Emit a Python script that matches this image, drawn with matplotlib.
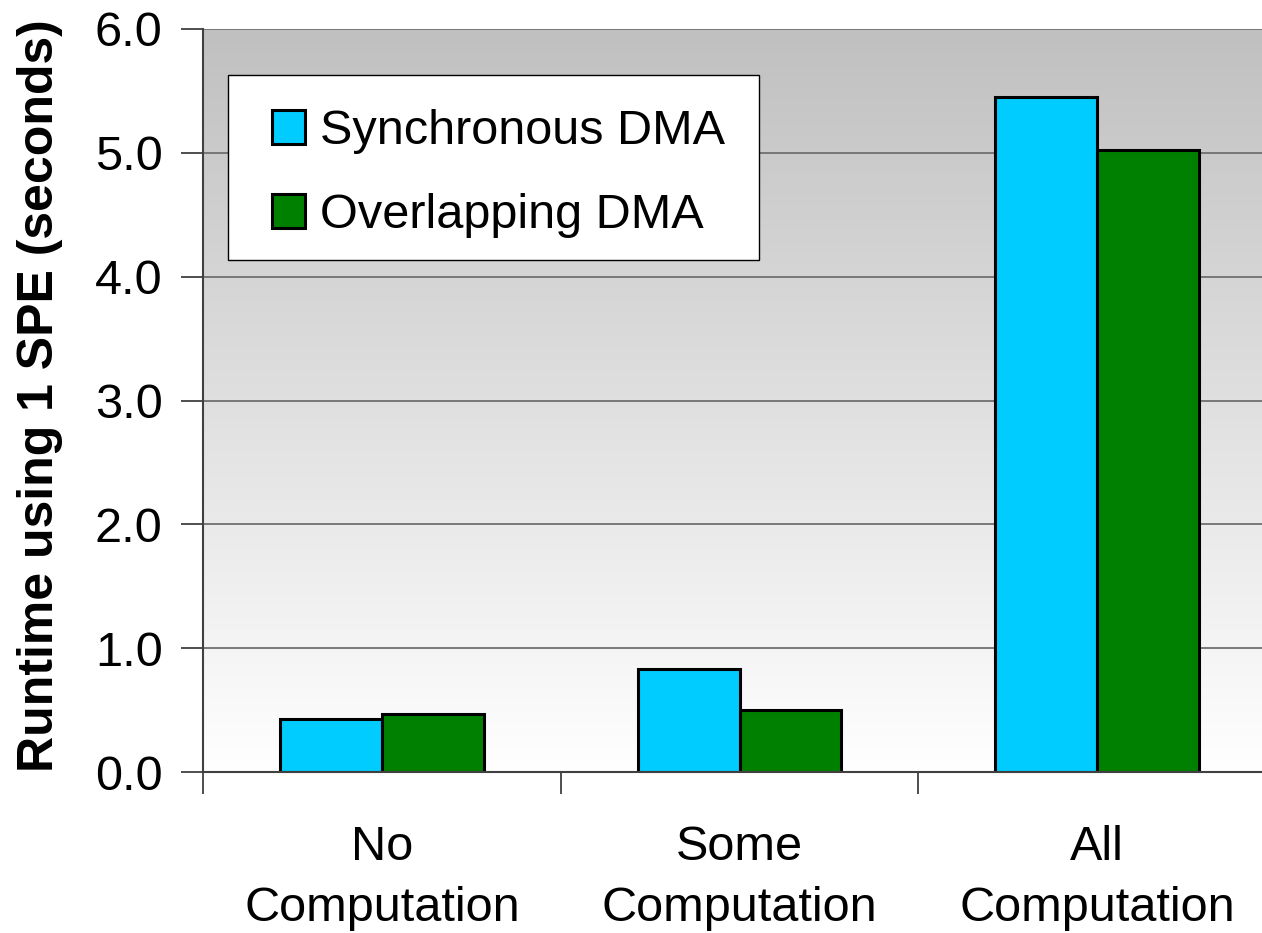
import matplotlib
matplotlib.use("Agg")
import matplotlib.pyplot as plt
from matplotlib.patches import Rectangle
import numpy as np

categories = ["No\nComputation", "Some\nComputation", "All\nComputation"]
series_names = ["Synchronous DMA", "Overlapping DMA"]
sync_vals = [0.43, 0.83, 5.45]
overlap_vals = [0.47, 0.50, 5.02]
colors = ["#00CCFF", "#008000"]
yticks = [0.0, 1.0, 2.0, 3.0, 4.0, 5.0, 6.0]

plt.rcParams['font.family'] = ['Liberation Sans', 'DejaVu Sans']

W, H = 1262, 933
fig = plt.figure(figsize=(W/100, H/100), dpi=100)
AX_L, AX_R, AX_T, AX_B = 203, 1276, 29, 772
ax = fig.add_axes([AX_L/W, 1-AX_B/H, (AX_R-AX_L)/W, (AX_B-AX_T)/H])

def axfrac(px, py):
    return ((px-AX_L)/(AX_R-AX_L), (AX_B-py)/(AX_B-AX_T))

x = np.arange(len(categories))
w = 0.285
ax.set_xlim(-0.5, 2.5)
ax.set_ylim(0, 6)

# gradient background
grad = np.linspace(0, 1, 256).reshape(-1, 1)
top = np.array([0xC0, 0xC0, 0xC0]) / 255
bot = np.array([1.0, 1.0, 1.0])
img = bot[None, None, :] * (1 - grad[:, :, None]) + top[None, None, :] * grad[:, :, None]
img = np.clip(img, 0, 1)
ax.imshow(img, extent=[-0.5, 2.5, 0, 6], aspect='auto', origin='lower', zorder=0)

for yv in yticks[1:]:
    ax.axhline(yv, color='#707070', lw=1.3, zorder=1)

ax.bar(x - w/2, sync_vals, w, color=colors[0], edgecolor='black', lw=2.2, zorder=3, label=series_names[0])
ax.bar(x + w/2, overlap_vals, w, color=colors[1], edgecolor='black', lw=2.2, zorder=3, label=series_names[1])

ax.set_yticks(yticks)
ax.set_yticklabels([f"{v:.1f}" for v in yticks], fontsize=35)
ax.set_xticks([-0.5, 0.5, 1.5])
ax.set_xticklabels([])
ax.tick_params(axis='y', direction='out', length=16, width=1.3, color='#404040', pad=13)
ax.tick_params(axis='x', direction='out', length=16, width=1.3, color='#404040')
for i, c in enumerate(categories):
    ax.text(x[i], -0.43, c, ha='center', va='top', fontsize=35, linespacing=1.45,
            transform=ax.transData)

for s in ['top', 'right']:
    ax.spines[s].set_visible(False)
for s in ['left', 'bottom']:
    ax.spines[s].set_color('#404040')
    ax.spines[s].set_linewidth(1.5)
    ax.spines[s].set_zorder(4)

ax.set_ylabel("Runtime using 1 SPE (seconds)", fontsize=36, fontweight='bold')
ax.yaxis.set_label_coords(-(203-63)/(AX_R-AX_L), axfrac(0, 396)[1])

# legend box
bx0, by0 = axfrac(228, 260)
bx1, by1 = axfrac(759, 75)
ax.add_patch(Rectangle((bx0, by0), bx1-bx0, by1-by0, transform=ax.transAxes,
                       facecolor='white', edgecolor='black', lw=1.0, zorder=5))
leg = ax.legend(loc='upper left', bbox_to_anchor=axfrac(272, 109),
                fontsize=35, frameon=False,
                handlelength=0.68, handleheight=0.68, handletextpad=0.31,
                labelspacing=0.8, borderpad=0, borderaxespad=0)
leg.set_zorder(6)

fig.savefig("out.png", dpi=100)
